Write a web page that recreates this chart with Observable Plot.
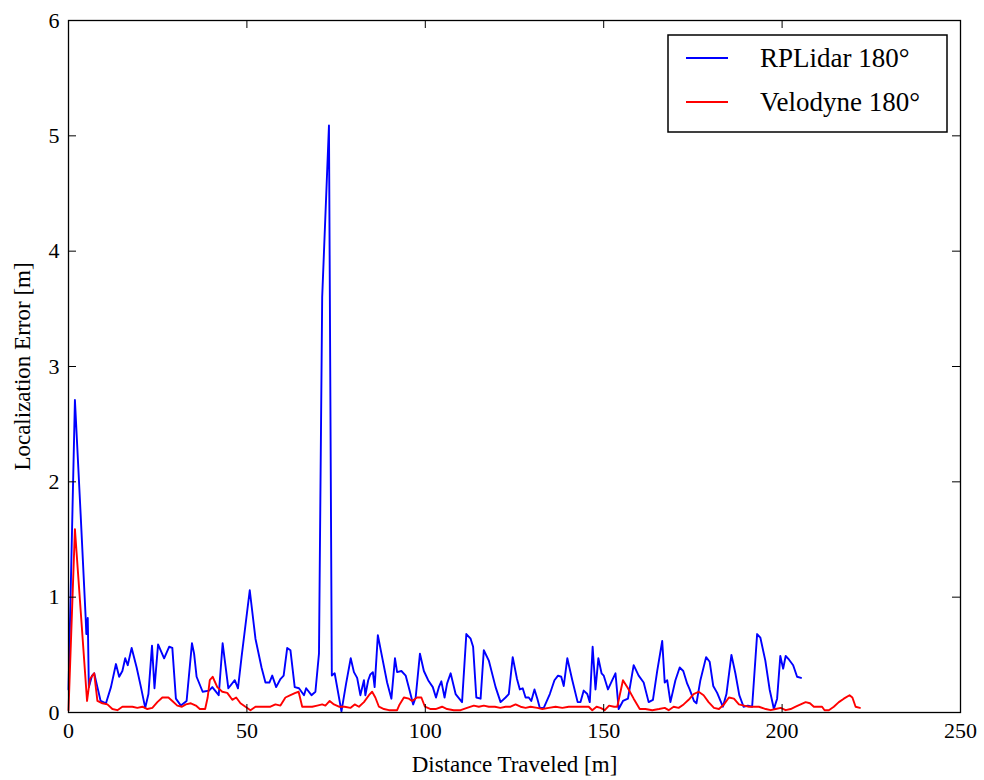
<!DOCTYPE html>
<html><head><meta charset="utf-8">
<script src="https://cdn.jsdelivr.net/npm/d3@7"></script>
<script src="https://cdn.jsdelivr.net/npm/@observablehq/plot@0.6"></script>
<style>body{margin:0;background:#fff;}</style>
</head><body><div id="chart"></div>
<script>
const seriesNames = ["RPLidar 180°", "Velodyne 180°"];
const seriesColors = ["#0000ff", "#ff0000"];
const xTicks = [0, 50, 100, 150, 200, 250];
const yTicks = [0, 1, 2, 3, 4, 5, 6];
const xLabel = "Distance Traveled [m]";
const yLabel = "Localization Error [m]";

const rplidarDist = [0,1.8,3.4,4.8,5.0,5.4,5.7,6.6,7.2,8.1,9.0,10.5,11.9,13.3,14.2,15.1,15.9,16.6,17.7,19.1,20.3,21.5,22.4,23.4,24.1,25.1,26.8,28.2,29.1,30.1,31.5,33.1,34.6,35.2,35.9,37.6,39.4,40.3,42.1,43.2,44.8,46.6,47.5,48.5,50.8,52.4,54.1,55.2,56.3,57.1,58.2,59.4,60.3,61.3,62.2,63.4,64.6,66.0,66.6,68.1,69.2,70.2,71.1,73.0,73.8,74.6,76.5,77.8,79.1,80.0,80.9,81.8,82.8,83.2,84.0,84.6,85.3,85.8,86.7,87.9,89.3,90.5,91.5,92.1,93.3,94.5,95.6,96.6,97.3,98.5,99.6,100.8,102.1,103.0,103.8,104.5,105.4,106.1,107.1,108.5,110.3,111.5,112.7,113.4,114.3,115.5,116.4,117.8,119.7,121.1,122.5,123.4,124.5,125.7,126.5,127.3,128.1,129.0,129.7,130.6,131.4,132.1,133.2,134.9,136.2,137.2,138.1,138.8,139.8,141.2,142.7,143.5,144.4,145.4,146.1,146.9,147.7,148.5,149.4,150.0,151.2,152.4,153.3,154.2,155.4,156.8,158.4,159.8,161.2,162.6,163.8,165.0,166.4,167.1,167.8,168.7,170.1,171.3,172.3,173.4,174.1,175.3,176.0,177.1,178.7,179.7,180.7,181.8,183.4,184.4,185.8,186.9,188.0,189.2,190.4,191.6,193.0,193.9,195.3,196.5,197.7,198.6,199.5,200.3,201.0,201.9,203.1,204.2,205.3];
const rplidarErr = [0.2,2.71,1.72,0.83,0.68,0.82,0.22,0.32,0.34,0.22,0.10,0.08,0.22,0.42,0.31,0.36,0.47,0.41,0.56,0.39,0.22,0.04,0.16,0.58,0.21,0.59,0.47,0.57,0.56,0.12,0.06,0.10,0.60,0.51,0.31,0.18,0.19,0.22,0.15,0.60,0.21,0.28,0.21,0.48,1.06,0.64,0.39,0.26,0.26,0.32,0.22,0.29,0.32,0.56,0.54,0.22,0.21,0.15,0.21,0.15,0.18,0.51,3.6,5.09,0.32,0.34,0.01,0.25,0.47,0.35,0.30,0.15,0.28,0.15,0.28,0.33,0.35,0.22,0.67,0.48,0.26,0.12,0.47,0.35,0.36,0.32,0.19,0.07,0.13,0.51,0.36,0.28,0.22,0.13,0.22,0.27,0.13,0.25,0.34,0.16,0.09,0.68,0.64,0.57,0.13,0.12,0.54,0.45,0.22,0.09,0.13,0.16,0.48,0.29,0.20,0.21,0.13,0.13,0.10,0.20,0.12,0.04,0.04,0.16,0.28,0.32,0.31,0.23,0.47,0.28,0.09,0.09,0.19,0.16,0.09,0.57,0.20,0.47,0.34,0.32,0.20,0.28,0.34,0.03,0.10,0.12,0.41,0.32,0.26,0.09,0.11,0.36,0.62,0.26,0.28,0.09,0.28,0.39,0.36,0.25,0.20,0.10,0.08,0.28,0.48,0.44,0.23,0.17,0.05,0.16,0.50,0.34,0.15,0.05,0.06,0.05,0.68,0.65,0.45,0.20,0.03,0.12,0.49,0.38,0.49,0.46,0.41,0.31,0.30];

const velodyneDist = [0,1.8,5.2,6.0,7.2,8.1,9.5,10.9,12.3,13.7,15.1,16.5,17.9,19.3,20.7,22.1,23.5,24.9,26.3,28.0,29.1,30.5,31.8,32.9,34.3,35.7,36.8,38.3,39.0,39.6,40.4,41.7,43.1,44.5,45.9,47.0,48.2,49.6,51.0,52.4,53.8,55.2,56.6,58.0,59.4,60.8,62.2,63.6,64.5,65.5,66.9,68.3,69.7,71.1,72.0,73.2,74.4,75.8,77.4,79.0,80.2,81.4,82.8,84.2,85.1,86.0,87.0,88.4,89.8,91.2,92.1,92.8,94.0,95.4,96.3,97.7,98.9,99.9,101.5,102.9,104.7,106.1,108.0,109.9,111.7,113.6,115.0,116.4,117.8,119.5,121.0,122.5,123.9,125.3,126.7,128.1,129.5,131.4,132.8,134.6,136.5,138.4,140.2,142.1,143.9,145.8,146.8,148.0,149.1,150.3,151.5,152.9,153.8,155.4,156.8,158.4,160.1,161.7,163.6,165.5,167.1,168.2,169.6,171.0,172.4,173.8,175.2,176.6,178.0,179.4,180.9,182.3,183.7,185.1,186.5,187.9,189.3,190.7,192.1,193.5,195.4,196.8,198.2,199.6,201.0,202.4,203.8,205.2,206.6,207.8,208.9,210.3,211.2,211.9,213.1,214.5,215.9,217.3,218.9,219.7,220.6,221.8];
const velodyneErr = [0.02,1.59,0.10,0.29,0.34,0.10,0.08,0.07,0.03,0.02,0.05,0.05,0.05,0.04,0.05,0.03,0.04,0.09,0.13,0.13,0.10,0.06,0.05,0.07,0.08,0.06,0.03,0.03,0.13,0.28,0.31,0.22,0.18,0.17,0.11,0.13,0.08,0.05,0.02,0.05,0.05,0.05,0.05,0.07,0.06,0.13,0.15,0.17,0.18,0.05,0.05,0.05,0.06,0.07,0.06,0.10,0.07,0.05,0.05,0.04,0.07,0.05,0.09,0.15,0.18,0.13,0.05,0.03,0.02,0.02,0.02,0.07,0.13,0.12,0.10,0.13,0.13,0.05,0.03,0.03,0.05,0.03,0.02,0.02,0.04,0.06,0.05,0.06,0.05,0.05,0.04,0.05,0.05,0.07,0.05,0.04,0.05,0.04,0.03,0.04,0.05,0.04,0.05,0.05,0.05,0.05,0.02,0.05,0.04,0.02,0.06,0.05,0.05,0.28,0.21,0.12,0.03,0.03,0.02,0.03,0.04,0.02,0.05,0.04,0.07,0.11,0.16,0.18,0.15,0.09,0.04,0.03,0.07,0.13,0.12,0.07,0.06,0.05,0.05,0.05,0.03,0.02,0.03,0.04,0.02,0.03,0.05,0.07,0.09,0.08,0.05,0.05,0.05,0.02,0.02,0.05,0.09,0.12,0.15,0.13,0.05,0.04];

const data = [
  ...rplidarDist.map((x, i) => ({series: seriesNames[0], x, y: rplidarErr[i]})),
  ...velodyneDist.map((x, i) => ({series: seriesNames[1], x, y: velodyneErr[i]}))
];

const W = 984, H = 780, mL = 68, mR = 24, mT = 20, mB = 68;
const innerW = W - mL - mR, innerH = H - mT - mB;
const serif = "'Liberation Serif', 'Times New Roman', serif";

function legend(index, scales, values, dims) {
  const right = dims.width - dims.marginRight - 13;
  const left = right - 279;
  const top = dims.marginTop + 15;
  const g = d3.create("svg:g");
  g.append("rect").attr("x", left).attr("y", top).attr("width", right - left).attr("height", 97)
    .attr("fill", "#fff").attr("stroke", "#000").attr("stroke-width", 1.5);
  seriesNames.forEach((name, i) => {
    const cy = top + 23 + i * 44;
    g.append("line").attr("x1", left + 18).attr("x2", left + 60).attr("y1", cy).attr("y2", cy)
      .attr("stroke", scales.color(name)).attr("stroke-width", 1.8);
    g.append("text").attr("x", left + 92).attr("y", cy + 9).attr("font-family", serif)
      .attr("text-anchor", "start").attr("font-size", 27).attr("fill", "#000").text(name);
  });
  return g.node();
}

const chart = Plot.plot({
  width: W, height: H,
  marginLeft: mL, marginRight: mR, marginTop: mT, marginBottom: mB,
  style: {fontFamily: serif, fontSize: "22px", color: "#000", background: "#fff"},
  x: {domain: [0, 250]},
  y: {domain: [0, 6]},
  color: {domain: seriesNames, range: seriesColors},
  marks: [
    Plot.line(data, {x: "x", y: "y", z: "series", stroke: "series", strokeWidth: 1.9}),
    Plot.frame({stroke: "#000", strokeWidth: 1.3}),
    Plot.tickX(xTicks, {x: d => d, insetTop: innerH - 8, stroke: "#000"}),
    Plot.tickX(xTicks, {x: d => d, insetBottom: innerH - 8, stroke: "#000"}),
    Plot.tickY(yTicks, {y: d => d, insetRight: innerW - 8, stroke: "#000"}),
    Plot.tickY(yTicks, {y: d => d, insetLeft: innerW - 8, stroke: "#000"}),
    Plot.axisX({ticks: xTicks, tickSize: 0, tickPadding: 10, label: null, tickFormat: d => String(d)}),
    Plot.axisY({ticks: yTicks, tickSize: 0, tickPadding: 9, label: null, tickFormat: d => String(d)}),
    Plot.text([xLabel], {text: d => d, frameAnchor: "bottom", dy: 52, fontSize: 23, fontFamily: serif, textAnchor: "middle", lineAnchor: "middle", fill: "#000"}),
    Plot.text([yLabel], {text: d => d, frameAnchor: "left", dx: -46, rotate: -90, fontSize: 23, fontFamily: serif, textAnchor: "middle", lineAnchor: "middle", fill: "#000"}),
    legend
  ]
});
document.getElementById("chart").append(chart);
</script>
</body></html>
